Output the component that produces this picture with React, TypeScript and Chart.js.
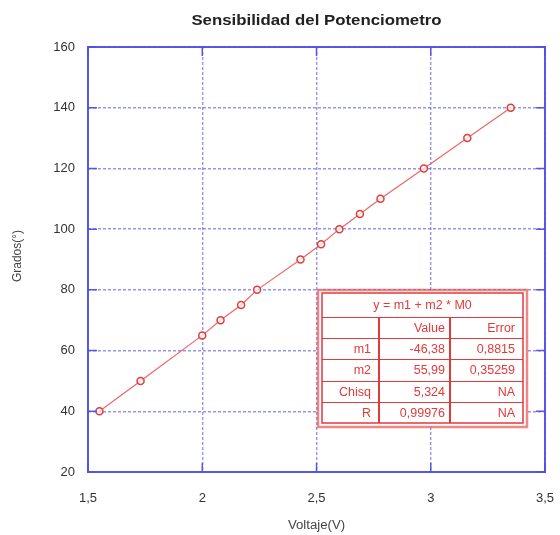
import React, { useEffect, useRef } from "react";
import { Chart, registerables } from "chart.js";

Chart.register(...registerables);

// Measured potentiometer angle against output voltage
const voltaje = [1.55, 1.73, 2.0, 2.08, 2.17, 2.24, 2.43, 2.52, 2.6, 2.69, 2.78, 2.97, 3.16, 3.35];
const grados = [40, 50, 65, 70, 75, 80, 90, 95, 100, 105, 110, 120, 130, 140];

const xTicks = [1.5, 2, 2.5, 3, 3.5];
const yTicks = [20, 40, 60, 80, 100, 120, 140, 160];

const chartTitle = "Sensibilidad del Potenciometro";
const xTitle = "Voltaje(V)";
const yTitle = "Grados(°)";

// Linear fit summary box
const fitHeader = "y = m1 + m2 * M0";
const fitColumns = ["", "Value", "Error"];
const fitNames = ["m1", "m2", "Chisq", "R"];
const fitValues = ["-46,38", "55,99", "5,324", "0,99976"];
const fitErrors = ["0,8815", "0,35259", "NA", "NA"];

const FONT = "'Liberation Sans', Arial, sans-serif";
const BLUE = "rgba(80,80,228,0.95)";
const GRID = "rgba(80,80,230,0.6)";
const RED = "#e23a3a";

const fmt = (v: number) => String(v).replace(".", ",");

// Draws text stretched slightly wider than the font's natural width
function wideText(ctx: CanvasRenderingContext2D, text: string, x: number, y: number, sx: number) {
  ctx.save();
  ctx.translate(x, y);
  ctx.scale(sx, 1);
  ctx.fillText(text, 0, 0);
  ctx.restore();
}

const framePlugin = {
  id: "frame",
  afterDraw(chart: any) {
    const { ctx, chartArea: a, scales } = chart;
    ctx.save();
    // plot frame
    ctx.strokeStyle = BLUE;
    ctx.lineWidth = 2;
    ctx.strokeRect(a.left, a.top, a.right - a.left, a.bottom - a.top);
    // inward tick marks on all four sides
    ctx.lineWidth = 1.5;
    const tl = 9;
    ctx.beginPath();
    for (const v of yTicks) {
      const y = scales.y.getPixelForValue(v);
      ctx.moveTo(a.left, y);
      ctx.lineTo(a.left + tl, y);
      ctx.moveTo(a.right, y);
      ctx.lineTo(a.right - tl, y);
    }
    for (const v of xTicks) {
      const x = scales.x.getPixelForValue(v);
      ctx.moveTo(x, a.bottom);
      ctx.lineTo(x, a.bottom - tl);
      ctx.moveTo(x, a.top);
      ctx.lineTo(x, a.top + tl);
    }
    ctx.stroke();

    // titles
    ctx.fillStyle = "#222";
    ctx.textAlign = "center";
    ctx.textBaseline = "middle";
    ctx.font = `bold 15px ${FONT}`;
    const cx = (a.left + a.right) / 2;
    wideText(ctx, chartTitle, cx, 21, 1.12);
    ctx.fillStyle = "#444";
    ctx.font = `12px ${FONT}`;
    wideText(ctx, xTitle, cx, 526, 1.1);
    ctx.save();
    ctx.translate(18, 256);
    ctx.rotate(-Math.PI / 2);
    ctx.fillText(yTitle, 0, 0);
    ctx.restore();

    // fit results table
    const L = a.right - 227, T = a.top + 243, R = a.right - 18, B = a.bottom - 45;
    const iL = L + 4, iT = T + 3, iR = R - 4, iB = B - 4;
    ctx.fillStyle = "#fff";
    ctx.fillRect(L, T, R - L, B - T);
    ctx.strokeStyle = "rgba(230,70,70,0.65)";
    ctx.lineWidth = 2.5;
    ctx.strokeRect(L, T, R - L, B - T);
    ctx.strokeStyle = RED;
    ctx.lineWidth = 1.5;
    ctx.strokeRect(iL, iT, iR - iL, iB - iT);
    const headB = iT + 24;
    const rowH = (iB - headB) / (fitNames.length + 1);
    const c1 = iL + 57, c2 = iL + 128;
    ctx.lineWidth = 1;
    ctx.beginPath();
    for (let i = 0; i <= fitNames.length; i++) {
      const y = Math.round(headB + i * rowH) + 0.5;
      ctx.moveTo(iL, y);
      ctx.lineTo(iR, y);
    }
    ctx.stroke();
    ctx.lineWidth = 2;
    ctx.beginPath();
    ctx.moveTo(c1, headB);
    ctx.lineTo(c1, iB);
    ctx.moveTo(c2, headB);
    ctx.lineTo(c2, iB);
    ctx.stroke();

    ctx.fillStyle = RED;
    ctx.font = `12.5px ${FONT}`;
    ctx.textAlign = "center";
    ctx.fillText(fitHeader, (iL + iR) / 2, (iT + headB) / 2 + 1);
    ctx.textAlign = "right";
    const rows = [fitColumns, ...fitNames.map((n, i) => [n, fitValues[i], fitErrors[i]])];
    rows.forEach((r, i) => {
      const y = headB + (i + 0.5) * rowH + 1;
      ctx.fillText(r[0], c1 - 8, y);
      ctx.fillText(r[1], c2 - 5, y);
      ctx.fillText(r[2], iR - 8, y);
    });
    ctx.restore();
  },
};

export default function App() {
  const ref = useRef<HTMLCanvasElement>(null);

  useEffect(() => {
    if (!ref.current) return;
    const chart = new Chart(ref.current, {
      type: "scatter",
      data: {
        datasets: [
          {
            data: voltaje.map((v, i) => ({ x: v, y: grados[i] })),
            showLine: true,
            borderColor: "rgba(235,85,85,0.9)",
            borderWidth: 1.2,
            pointStyle: "circle",
            pointRadius: 3.5,
            pointBorderWidth: 1.5,
            pointBorderColor: RED,
            pointBackgroundColor: "rgba(255,255,255,0.7)",
          },
        ],
      },
      options: {
        responsive: false,
        animation: false,
        layout: { padding: { top: 47, right: 15, left: 0, bottom: 0 } },
        plugins: {
          legend: { display: false },
          tooltip: { enabled: false },
          title: { display: false },
        },
        scales: {
          x: {
            type: "linear",
            min: 1.5,
            max: 3.5,
            afterBuildTicks: (s: any) => {
              s.ticks = xTicks.map((v) => ({ value: v }));
            },
            afterFit: (s: any) => {
              s.height = 63;
              s.paddingLeft = 0;
              s.paddingRight = 0;
            },
            grid: { color: GRID, lineWidth: 1.4, drawTicks: false },
            border: { display: false, dash: [3, 2] },
            ticks: {
              padding: 19,
              color: "#333",
              font: { family: FONT, size: 13 },
              callback: (v: any) => fmt(Number(v)),
            },
          },
          y: {
            type: "linear",
            min: 20,
            max: 160,
            afterBuildTicks: (s: any) => {
              s.ticks = yTicks.map((v) => ({ value: v }));
            },
            afterFit: (s: any) => {
              s.width = 88;
              s.paddingTop = 0;
              s.paddingBottom = 0;
            },
            grid: { color: GRID, lineWidth: 1.4, drawTicks: false },
            border: { display: false, dash: [3, 2] },
            ticks: {
              padding: 13,
              color: "#333",
              font: { family: FONT, size: 13 },
              callback: (v: any) => fmt(Number(v)),
            },
          },
        },
      },
      plugins: [framePlugin],
    });
    return () => chart.destroy();
  }, []);

  return (
    <div style={{ position: "absolute", left: 0, top: 0, width: 560, height: 535, background: "#fff" }}>
      <canvas ref={ref} width={560} height={535} />
    </div>
  );
}
